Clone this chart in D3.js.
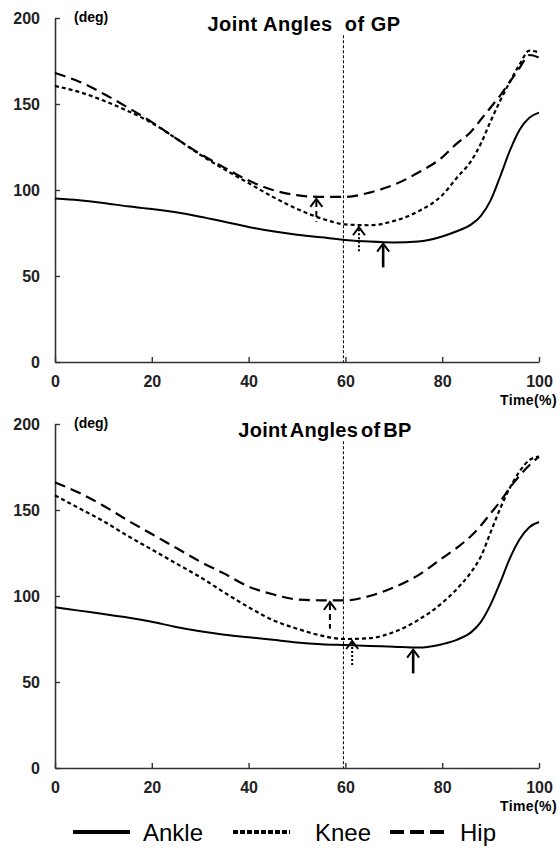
<!DOCTYPE html>
<html>
<head>
<meta charset="utf-8">
<script src="https://cdn.jsdelivr.net/npm/d3@7"></script>
<style>
  body { margin: 0; background: #fff; }
  svg { font-family: "Liberation Sans", Arial, sans-serif; }
  .tick text { font-weight: bold; font-size: 16px; fill: #222; }
</style>
</head>
<body>
<svg id="main" width="560" height="851"></svg>
<script>
// time points (% of cycle)
let timePts = [0, 5, 10, 15, 20, 25, 30, 35, 40, 45, 50, 55, 60, 65, 70, 75, 80, 83, 86, 88, 90, 92, 94, 96, 98, 100];

// GP joint angles (deg)
let ankleGP = [95, 94, 92.5, 90.5, 89, 87, 84.5, 81.5, 78.5, 76, 74, 72.5, 71, 70, 69.5, 70, 73, 76, 80, 85, 94, 108, 123, 135, 142, 145];
let kneeGP = [160.5, 157, 152, 146, 139, 130, 120.5, 112, 104, 96, 89, 83.5, 80, 79.5, 82, 87.5, 97, 107, 117, 127, 140, 152, 163, 173, 181, 180];
let hipGP = [168, 163, 156, 148, 139.5, 130, 121, 113, 105.5, 100, 97, 96, 96, 98.5, 103, 110, 119, 127, 134, 141, 148, 155, 163, 171, 178.5, 177];

// BP joint angles (deg)
let ankleBP = [93.5, 91.5, 89.5, 87.5, 85, 82, 79.5, 77.5, 76, 74.5, 73, 72, 71.5, 71, 70.5, 70, 72, 74.5, 79, 85, 95, 108, 122, 133, 140, 143];
let kneeBP = [158.5, 151, 143.5, 135, 127, 119, 111, 102, 93.5, 86, 81, 77, 75, 75.5, 79, 86, 96, 104, 114, 123, 137, 151, 163, 172.5, 179, 181];
let hipBP = [166, 160, 152.5, 144, 136, 128, 120, 113, 105.5, 101, 98, 97.5, 97.5, 100, 105, 112, 122, 128, 135, 141, 148, 155, 163, 170, 176, 181];

// arrows: [time, from value, to value]
let arrowsGP = {hip: [54, 96, 81.5], knee: [62.8, 79.5, 63.5], ankle: [67.8, 70, 55]};
let arrowsBP = {hip: [56.8, 97.7, 81], knee: [61.4, 75, 58.7], ankle: [74, 70, 55]};

let xTicks = [0, 20, 40, 60, 80, 100];
let yTicks = [0, 50, 100, 150, 200];
let toeOff = 59.6;
let toeTop = 190;

const styles = {
  ankle: {dash: null, width: 2},
  knee: {dash: "4,3", width: 2.2},
  hip: {dash: "11,6", width: 2.2}
};

const svg = d3.select("#main");

const drawPanel = (top, title, titleX, titleSize, ls, ws, ankle, knee, hip, arrows) => {
  var x = d3.scaleLinear().domain([0, 100]).range([55, 539]);
  var y = d3.scaleLinear().domain([0, 200]).range([top + 344, top]);
  var g = svg.append("g");

  // x axis
  var xa = g.append("g")
    .attr("transform", "translate(0," + y(0) + ")")
    .call(d3.axisBottom(x).tickValues(xTicks).tickSizeInner(-5).tickSizeOuter(0).tickPadding(11));
  // y axis
  var ya = g.append("g")
    .attr("transform", "translate(" + x(0) + ",0)")
    .call(d3.axisLeft(y).tickValues(yTicks).tickSizeInner(-5).tickSizeOuter(0).tickPadding(15));
  g.selectAll(".domain").attr("stroke", "#333").attr("stroke-width", 1.6);
  g.selectAll(".tick line").attr("stroke", "#333").attr("stroke-width", 1.4);
  xa.selectAll(".tick text").attr("dy", "0.9em");

  // toe-off line
  g.append("line")
    .attr("x1", x(toeOff)).attr("x2", x(toeOff))
    .attr("y1", y(toeTop)).attr("y2", y(0))
    .attr("stroke", "#111").attr("stroke-width", 1.1).attr("stroke-dasharray", "3,2");

  var line = d3.line()
    .x(function(d, i) { return x(timePts[i]); })
    .y(function(d) { return y(d); })
    .curve(d3.curveMonotoneX);

  var series = {ankle: ankle, knee: knee, hip: hip};
  ["ankle", "knee", "hip"].forEach(function(k) {
    g.append("path")
      .datum(series[k])
      .attr("d", line)
      .attr("fill", "none")
      .attr("stroke", "#000")
      .attr("stroke-width", styles[k].width)
      .attr("stroke-dasharray", styles[k].dash);
  });

  // arrows
  ["hip", "knee", "ankle"].forEach(function(k) {
    var a = arrows[k];
    var ax = x(a[0]), y1 = y(a[1]) + 2, y2 = y(a[2]);
    g.append("line")
      .attr("x1", ax).attr("x2", ax).attr("y1", y1 + 2).attr("y2", y2)
      .attr("stroke", "#000")
      .attr("stroke-width", k == "ankle" ? 2.6 : 2)
      .attr("stroke-dasharray", k == "hip" ? "6,4" : (k == "knee" ? "2,2" : null));
    g.append("path")
      .attr("d", "M" + (ax - 6) + "," + (y1 + 8) + "L" + ax + "," + y1 + "L" + (ax + 6) + "," + (y1 + 8))
      .attr("fill", "none").attr("stroke", "#000").attr("stroke-width", 2);
  });

  g.append("text")
    .attr("x", titleX).attr("y", top + 13)
    .attr("text-anchor", "middle")
    .attr("font-weight", "bold").attr("font-size", titleSize)
    .attr("letter-spacing", ls).attr("word-spacing", ws)
    .style("white-space", "pre")
    .text(title);
  g.append("text")
    .attr("x", x(0) + 19).attr("y", top + 4)
    .attr("font-weight", "bold").attr("font-size", 14)
    .text("(deg)");
  g.append("text")
    .attr("x", 557).attr("y", y(0) + 43)
    .attr("text-anchor", "end")
    .attr("font-weight", "bold").attr("font-size", 14)
    .attr("letter-spacing", 0.4)
    .text("Time(%)");
};

drawPanel(18, "Joint Angles  of GP", 304, 20, 0.5, 0, ankleGP, kneeGP, hipGP, arrowsGP);
drawPanel(424, "Joint Angles of BP", 325, 20, 0.3, -3, ankleBP, kneeBP, hipBP, arrowsBP);

// legend
let legendNames = ["Ankle", "Knee", "Hip"];
let legendKeys = ["ankle", "knee", "hip"];
let legX = [73, 233, 390];
let legTextX = [143, 315, 460];
let legY = 832;
legendKeys.forEach(function(k, i) {
  svg.append("line")
    .attr("x1", legX[i]).attr("x2", legX[i] + 57)
    .attr("y1", legY).attr("y2", legY)
    .attr("stroke", "#000").attr("stroke-width", 4)
    .attr("stroke-dasharray", k == "knee" ? "5,2" : (k == "hip" ? "14,6" : null));
  svg.append("text")
    .attr("x", legTextX[i]).attr("y", legY + 9)
    .attr("font-size", 24)
    .text(legendNames[i]);
});
</script>
</body>
</html>
